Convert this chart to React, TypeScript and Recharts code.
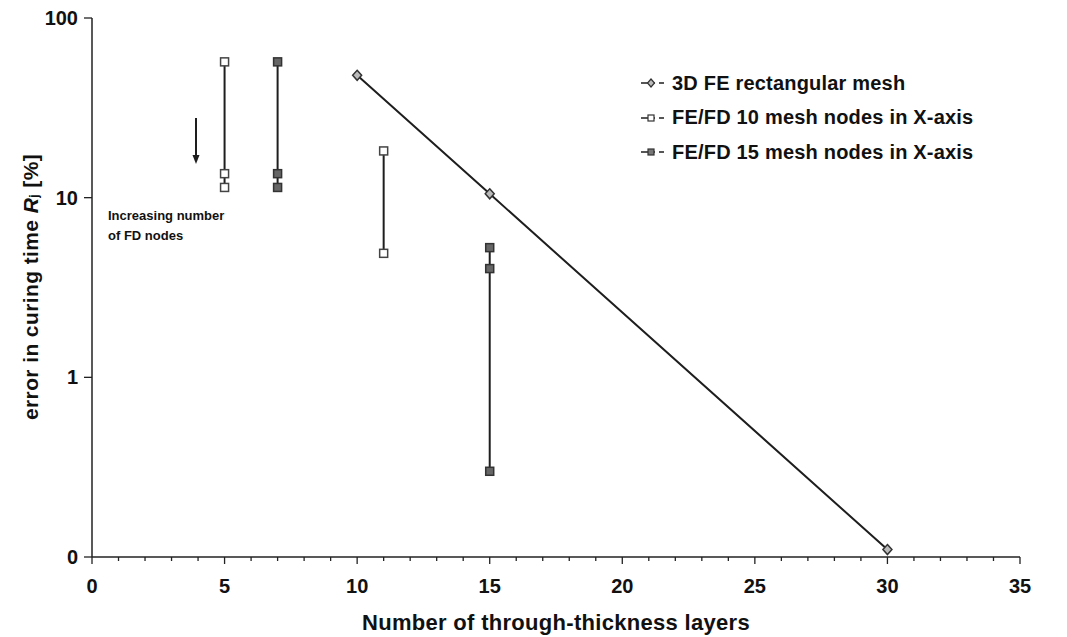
import React from "react";
import {
  ScatterChart,
  Scatter,
  XAxis,
  YAxis,
} from "recharts";

// 3D FE rectangular mesh
const feLayers = [10, 15, 30];
const feError = [48, 10.5, 0.11];

// FE/FD 10 mesh nodes in X-axis (two groups of FD node counts)
const fd10At5 = [57, 13.6, 11.4];
const fd10At11 = [18.2, 4.9];

// FE/FD 15 mesh nodes in X-axis
const fd15At7 = [57, 13.6, 11.4];
const fd15At15 = [5.27, 4.03, 0.3];

const legendNames = [
  "3D FE rectangular mesh",
  "FE/FD 10 mesh nodes in X-axis",
  "FE/FD 15 mesh nodes in X-axis",
];

const xTicks = Array.from({ length: 36 }, (_, i) => i);
const yMajor = [0.1, 1, 10, 100];
const yMinor: number[] = [];
for (const dec of [0.1, 1, 10]) {
  for (let k = 2; k < 10; k++) yMinor.push(+(dec * k).toPrecision(2));
}
const yLabels: { [k: string]: string } = { "0.1": "0", "1": "1", "10": "10", "100": "100" };

const toPoints = (x: number, ys: number[]) => ys.map((y) => ({ x, y }));
const feData = feLayers.map((x, i) => ({ x, y: feError[i] }));

const FONT = "'Liberation Sans', Arial, sans-serif";
const LINE = "#1e1e1e";

const Diamond = (props: any) => {
  const { cx, cy } = props;
  if (cx == null || cy == null) return null;
  return (
    <polygon
      points={`${cx},${cy - 5} ${cx + 4.5},${cy} ${cx},${cy + 5} ${cx - 4.5},${cy}`}
      fill="#bbb"
      stroke="#333"
      strokeWidth={1.5}
    />
  );
};

const OpenSquare = (props: any) => {
  const { cx, cy } = props;
  if (cx == null || cy == null) return null;
  return <rect x={cx - 4} y={cy - 4} width={8} height={8} fill="#fff" stroke="#444" strokeWidth={1.5} />;
};

const FilledSquare = (props: any) => {
  const { cx, cy } = props;
  if (cx == null || cy == null) return null;
  return <rect x={cx - 4} y={cy - 4} width={8} height={8} fill="#666" stroke="#333" strokeWidth={1.5} />;
};

const XTick = (props: any) => {
  const { x, y, payload } = props;
  const v = payload.value;
  const major = v % 5 === 0;
  return (
    <g>
      <line x1={x} y1={y} x2={x} y2={y + (major ? 7 : 4)} stroke="#222" strokeWidth={1.3} />
      {major && (
        <text x={x} y={y + 29} textAnchor="middle" dominantBaseline="central"
          fontFamily={FONT} fontWeight="bold" fontSize={20} fill="#111">
          {v}
        </text>
      )}
    </g>
  );
};

const YTick = (props: any) => {
  const { x, y, payload } = props;
  const label = yLabels[String(payload.value)] ?? "";
  return (
    <g>
      <line x1={x} y1={y} x2={x - 8} y2={y} stroke="#222" strokeWidth={1.3} />
      <text x={x - 14} y={y} textAnchor="end" dominantBaseline="central"
        fontFamily={FONT} fontWeight="bold" fontSize={20} fill="#111">
        {label}
      </text>
    </g>
  );
};

// log minor ticks: short stubs pointing left from the axis line
const MinorYTick = (props: any) => {
  const { x, y } = props;
  if (x == null || y == null) return null;
  return <rect x={x - 5} y={y - 0.7} width={5} height={1.4} fill="#222" />;
};

const YTitle = () => (
  <text
    x={30}
    y={287}
    transform="rotate(-90 30 287)"
    textAnchor="middle"
    dominantBaseline="central"
    fontFamily={FONT}
    fontWeight="bold"
    fontSize={21}
    letterSpacing={0.4}
    fill="#111"
  >
    error in curing time <tspan fontStyle="italic">R</tspan>
    <tspan fontSize={12} dy={4}>j</tspan>
    <tspan dy={-4}>{"  [%]"}</tspan>
  </text>
);

const LegendMarker = ({ idx }: { idx: number }) => (
  <svg width={30} height={14} style={{ marginRight: 2 }}>
    <line x1={1} y1={7} x2={15} y2={7} stroke={LINE} strokeWidth={1.5} />
    {idx === 0 ? (
      <polygon points="11,3 14.5,7 11,11 7.5,7" fill="#bbb" stroke="#333" strokeWidth={1.2} />
    ) : (
      <rect x={8} y={4} width={6} height={6} fill={idx === 1 ? "#fff" : "#777"} stroke="#333" strokeWidth={1.2} />
    )}
    <line x1={19} y1={7} x2={24} y2={7} stroke={LINE} strokeWidth={1.5} />
  </svg>
);

const lineStyle = { stroke: LINE, strokeWidth: 2 };

export default function App() {
  return (
    <div style={{ position: "absolute", left: 0, top: 0, width: 1067, height: 637, background: "#fff" }}>
      <ScatterChart width={1067} height={637} margin={{ top: 18, right: 47, bottom: 0, left: 0 }}>
        <XAxis
          type="number"
          dataKey="x"
          domain={[0, 35]}
          ticks={xTicks}
          interval={0}
          tick={<XTick />}
          tickLine={false}
          tickSize={0}
          tickMargin={0}
          axisLine={{ stroke: "#222", strokeWidth: 1.5 }}
          height={80}
          label={{
            value: "Number of through-thickness layers",
            position: "insideBottom",
            offset: 7,
            fontFamily: FONT,
            fontWeight: "bold",
            fontSize: 22,
            letterSpacing: 0.3,
            fill: "#111",
          }}
        />
        <XAxis xAxisId="top" orientation="top" type="number" domain={[0, 35]} tick={false} tickLine={false}
          height={0} axisLine={{ stroke: "#222", strokeWidth: 1.5 }} />
        <YAxis
          yAxisId="minor"
          orientation="left"
          mirror
          type="number"
          scale="log"
          domain={[0.1, 100]}
          ticks={yMinor}
          interval={0}
          tick={<MinorYTick />}
          tickLine={false}
          tickSize={0}
          tickMargin={0}
          axisLine={false}
          width={0}
        />
        <YAxis
          type="number"
          dataKey="y"
          scale="log"
          domain={[0.1, 100]}
          ticks={yMajor}
          interval={0}
          tick={<YTick />}
          tickLine={false}
          tickSize={0}
          tickMargin={0}
          axisLine={{ stroke: "#222", strokeWidth: 1.5 }}
          width={92}
          label={<YTitle />}
        />
        <YAxis yAxisId="right" orientation="right" type="number" scale="log" domain={[0.1, 100]}
          tick={false} tickLine={false} width={0} axisLine={{ stroke: "#222", strokeWidth: 1.5 }} />
        <Scatter name={legendNames[0]} data={feData} line={lineStyle} shape={<Diamond />} isAnimationActive={false} />
        <Scatter name={legendNames[1]} data={toPoints(5, fd10At5)} line={lineStyle} shape={<OpenSquare />} isAnimationActive={false} />
        <Scatter name={legendNames[1]} data={toPoints(11, fd10At11)} line={lineStyle} shape={<OpenSquare />} isAnimationActive={false} />
        <Scatter name={legendNames[2]} data={toPoints(7, fd15At7)} line={lineStyle} shape={<FilledSquare />} isAnimationActive={false} />
        <Scatter name={legendNames[2]} data={toPoints(15, fd15At15)} line={lineStyle} shape={<FilledSquare />} isAnimationActive={false} />
      </ScatterChart>

      {/* annotation: arrow and note */}
      <svg width={1067} height={637} style={{ position: "absolute", left: 0, top: 0, pointerEvents: "none" }}>
        <line x1={196} y1={118} x2={196} y2={156} stroke={LINE} strokeWidth={2} />
        <polygon points="192.5,155 199.5,155 196,164" fill={LINE} />
        <text x={108} y={220} fontFamily={FONT} fontWeight="bold" fontSize={13} fill="#111">Increasing number</text>
        <text x={108} y={240} fontFamily={FONT} fontWeight="bold" fontSize={13} fill="#111">of FD nodes</text>
      </svg>

      <div style={{ position: "absolute", left: 640, top: 66, fontFamily: FONT, fontWeight: "bold", fontSize: 20, letterSpacing: 0.2, color: "#111" }}>
        {legendNames.map((name, i) => (
          <div key={name} style={{ display: "flex", alignItems: "center", height: 34.5 }}>
            <LegendMarker idx={i} />
            <span>{name}</span>
          </div>
        ))}
      </div>
    </div>
  );
}
